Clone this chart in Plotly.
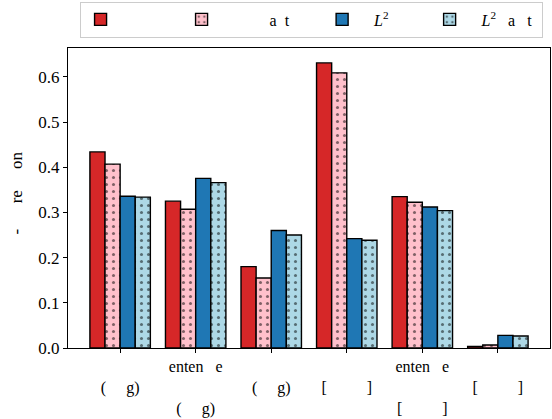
import plotly.graph_objects as go

NB = "\u00a0"

categories = [
    NB + "<br>(" + NB * 5 + "g)",
    "enten" + NB * 3 + "e<br>" + NB + "<br>(" + NB * 5 + "g)",
    NB + "<br>(" + NB * 5 + "g)",
    NB + "<br>[" + NB * 10 + "]",
    "enten" + NB * 3 + "e<br>" + NB + "<br>[" + NB * 10 + "]",
    NB + "<br>[" + NB * 10 + "]",
]

series_names = [
    NB * 14,
    NB * 12 + "a" + NB * 2 + "t" + NB * 7,
    NB * 3 + "<i>L</i><sup>2</sup>" + NB * 9,
    NB * 3 + "<i>L</i><sup>2</sup>" + NB * 3 + "a" + NB * 3 + "t" + NB * 1,
]

vals_red = [0.434, 0.325, 0.180, 0.631, 0.335, 0.0035]
vals_pink = [0.407, 0.307, 0.155, 0.609, 0.3225, 0.0066]
vals_blue = [0.336, 0.3755, 0.260, 0.242, 0.312, 0.028]
vals_lblue = [0.334, 0.366, 0.250, 0.2385, 0.304, 0.0265]

y_label = "-" + NB * 6 + "re" + NB * 5 + "on"

colors = ["#d62728", "#ffc0cb", "#1f77b4", "#add8e6"]
patterned = [False, True, False, True]
series_vals = [vals_red, vals_pink, vals_blue, vals_lblue]

x_pos = list(range(len(categories)))

FONT = "Liberation Serif, DejaVu Serif, serif"

fig = go.Figure()
for name, vals, col, pat in zip(series_names, series_vals, colors, patterned):
    marker = dict(color=col, line=dict(color="black", width=1.4))
    if pat:
        marker["pattern"] = dict(shape=".", fgcolor="black", bgcolor=col,
                                 size=7, solidity=0.15, fillmode="overlay")
    fig.add_trace(go.Bar(x=x_pos, y=vals, name=name, marker=marker))

fig.update_layout(
    width=552, height=419,
    margin=dict(l=68, r=2, t=48, b=71),
    barmode="group", bargap=0.2, bargroupgap=0,
    plot_bgcolor="white", paper_bgcolor="white",
    font=dict(family=FONT, size=16, color="black"),
    showlegend=True,
    legend=dict(orientation="h", x=0.024, xanchor="left", y=1.035, yanchor="bottom",
                bordercolor="#cccccc", borderwidth=1, bgcolor="white",
                font=dict(family=FONT, size=16), traceorder="normal"),
    annotations=[dict(text=y_label, textangle=-90, xref="paper", yref="paper",
                      x=-0.106, y=0.518, xanchor="center", yanchor="middle",
                      showarrow=False, font=dict(family=FONT, size=17))],
)
fig.update_xaxes(
    range=[-0.69, 5.69], tickvals=x_pos, ticktext=categories,
    showline=True, linecolor="black", linewidth=1, mirror=True,
    ticks="outside", ticklen=4, tickcolor="black", showgrid=False, zeroline=False,
    tickfont=dict(family=FONT, size=16),
)
fig.update_yaxes(
    range=[0, 0.664], dtick=0.1, tick0=0, tickformat=".1f",
    showline=True, linecolor="black", linewidth=1, mirror=True,
    ticks="outside", ticklen=4, tickcolor="black", showgrid=False, zeroline=False,
    tickfont=dict(family=FONT, size=17),
)

fig.write_html("out.html")
